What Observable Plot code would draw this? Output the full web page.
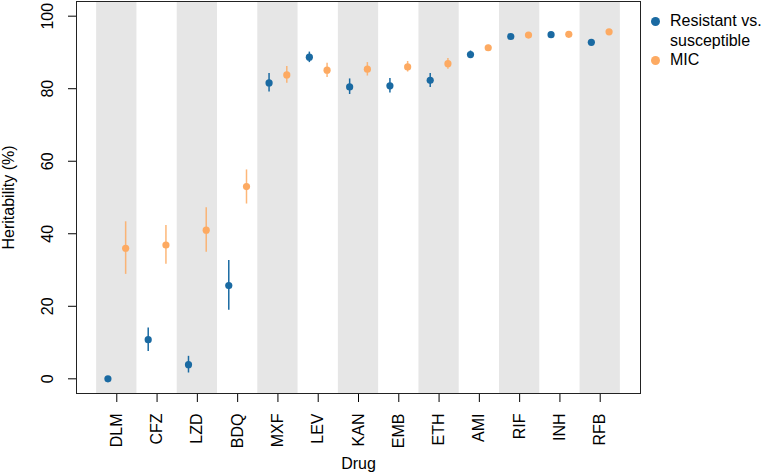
<!DOCTYPE html>
<html><head><meta charset="utf-8">
<script src="https://cdn.jsdelivr.net/npm/d3@7"></script>
<script src="https://cdn.jsdelivr.net/npm/@observablehq/plot@0.6"></script>
<style>
body{margin:0;background:#fff;}
#wrap{position:relative;width:763px;height:472px;font-family:"Liberation Sans",Arial,Helvetica,sans-serif;}
#wrap svg{position:absolute;left:0;top:0;}
.lg-dot{position:absolute;width:9px;height:9px;border-radius:50%;}
.lg-txt{position:absolute;font-size:16px;line-height:20px;color:#000;white-space:nowrap;}
</style></head><body><div id="wrap"></div>
<script>
const drugs = ["DLM","CFZ","LZD","BDQ","MXF","LEV","KAN","EMB","ETH","AMI","RIF","INH","RFB"];
const rsEst  = [0, 10.8, 3.9, 25.7, 81.6, 88.7, 80.5, 80.8, 82.3, 89.4, 94.4, 94.9, 92.8];
const rsLo   = [0, 7.5, 1.6, 18.9, 79.1, 87.2, 78.4, 78.8, 80.3, 88.5, 94.0, 94.6, 92.3];
const rsHi   = [0, 14.0, 6.2, 32.6, 84.2, 90.1, 82.7, 82.8, 84.2, 90.4, 94.8, 95.2, 93.3];
const micEst = [36.0, 36.9, 41.0, 53.0, 83.8, 85.1, 85.4, 86.0, 86.9, 91.3, 94.8, 95.0, 95.7];
const micLo  = [28.8, 31.6, 34.9, 48.2, 81.5, 83.1, 83.5, 84.6, 85.4, 90.6, 94.4, 94.7, 95.3];
const micHi  = [43.3, 42.3, 47.2, 57.6, 86.1, 87.0, 87.2, 87.5, 88.3, 92.0, 95.2, 95.3, 96.1];
const yTicks = [0, 20, 40, 60, 80, 100];
const seriesKeys = ["rs", "mic"];
const seriesLabels = ["Resistant vs.<br>susceptible", "MIC"];
const seriesColors = ["#1a6aa2", "#fdaa62"];

const offset = 0.22;
const rows = drugs.flatMap((d, i) => [
  {drug: d, x: i + 1 - offset, est: rsEst[i], lo: rsLo[i], hi: rsHi[i], type: "rs"},
  {drug: d, x: i + 1 + offset, est: micEst[i], lo: micLo[i], hi: micHi[i], type: "mic"}
]);
const bands = drugs.map((d, i) => ({i: i + 1})).filter(d => d.i % 2 === 1);

const chart = Plot.plot({
  width: 763, height: 472,
  marginLeft: 76, marginRight: 123, marginTop: 1, marginBottom: 79,
  style: {fontFamily: '"Liberation Sans",Arial,Helvetica,sans-serif', fontSize: "16px", background: "transparent", overflow: "visible", color: "#000"},
  x: {domain: [0, 14]},
  y: {domain: [-4.05, 104.05]},
  color: {domain: seriesKeys, range: seriesColors},
  marks: [
    Plot.rect(bands, {x1: d => d.i - 0.5, x2: d => d.i + 0.5, fill: "#e6e6e6"}),
    Plot.ruleX(rows, {x: "x", y1: "lo", y2: "hi", stroke: "type", strokeWidth: 1.5, strokeOpacity: d => d.type === "mic" ? 0.85 : 1}),
    Plot.dot(rows, {x: "x", y: "est", fill: "type", r: 3.6}),
    Plot.axisX({ticks: d3.range(1, 14), tickFormat: i => drugs[i - 1], tickRotate: -90, tickSize: 9, tickPadding: 11, label: null, stroke: "#000"}),
    Plot.axisY({ticks: yTicks, tickRotate: -90, tickSize: 8, tickPadding: 16, label: null, stroke: "#000"}),
    Plot.text(["Drug"], {frameAnchor: "bottom", lineAnchor: "middle", dy: 70, fill: "#000"}),
    Plot.text(["Heritability (%)"], {frameAnchor: "left", textAnchor: "middle", lineAnchor: "middle", rotate: -90, dx: -67.6, fill: "#000"}),
    Plot.frame({stroke: "#222"})
  ]
});
const wrap = document.getElementById("wrap");
wrap.appendChild(chart);

const lgPos = [{dotTop: 16.5, txtTop: 11}, {dotTop: 55.5, txtTop: 50}];
seriesKeys.forEach((k, j) => {
  const dot = document.createElement("div");
  dot.className = "lg-dot";
  dot.style.left = "650.5px";
  dot.style.top = lgPos[j].dotTop + "px";
  dot.style.background = seriesColors[j];
  wrap.appendChild(dot);
  const t = document.createElement("div");
  t.className = "lg-txt";
  t.style.left = "670px";
  t.style.top = lgPos[j].txtTop + "px";
  t.innerHTML = seriesLabels[j];
  wrap.appendChild(t);
});
</script></body></html>
